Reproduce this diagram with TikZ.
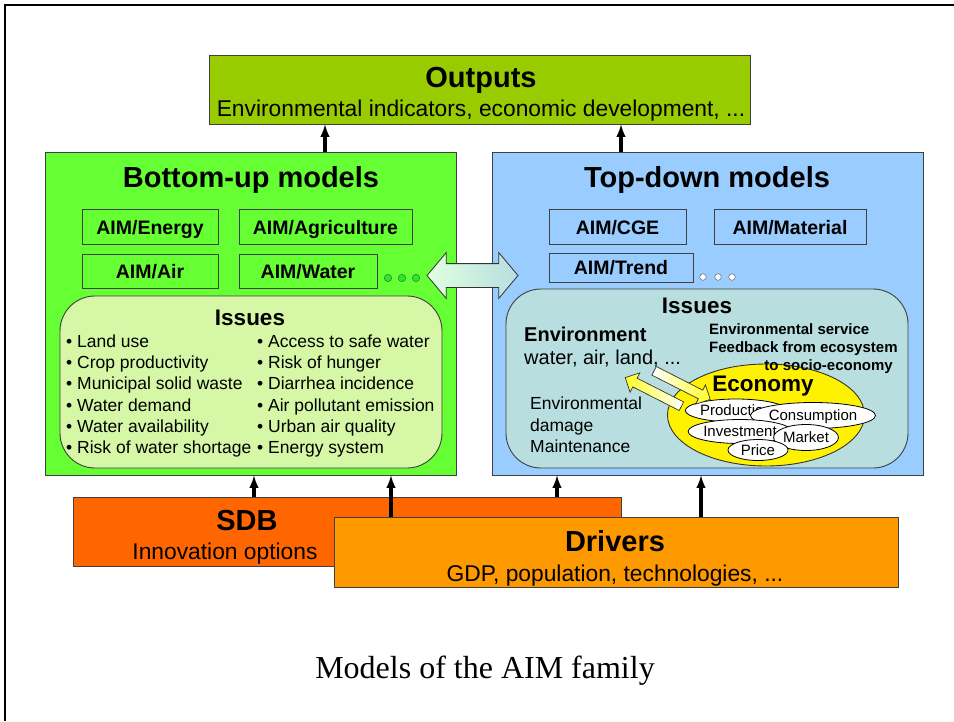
\documentclass[tikz,border=0pt]{standalone}
\usepackage{xcolor}
\usepackage{fontspec}
\setmainfont{Liberation Sans}
\newfontfamily\capfont{Liberation Serif}
\usepackage{tikz}
\usetikzlibrary{arrows,shapes.geometric,shapes.arrows}

\definecolor{outgreen}{HTML}{99CC00}
\definecolor{bugreen}{HTML}{66FF33}
\definecolor{buissue}{HTML}{D5F7A6}
\definecolor{tdblue}{HTML}{99CCFF}
\definecolor{tdissue}{HTML}{B8DEE0}
\definecolor{sdborange}{HTML}{FF6600}
\definecolor{drvorange}{HTML}{FF9900}
\definecolor{dotgreen}{HTML}{22EE22}

\tikzset{
  box/.style={draw=black!75, line width=0.9pt, inner sep=0pt},
  aimbox/.style={box, text height=14pt, text depth=0pt, font=\bfseries\fontsize{19.5}{22}\selectfont},
  bigtitle/.style={inner sep=0pt, text height=20.8pt, text depth=0pt, font=\bfseries\fontsize{29}{31}\selectfont},
  subline/.style={inner sep=0pt, text height=16.3pt, text depth=0pt, font=\fontsize{22.8}{25}\selectfont},
  issuehead/.style={inner sep=0pt, text height=16.1pt, text depth=0pt, font=\bfseries\fontsize{22.5}{25}\selectfont},
  issue/.style={anchor=west, inner sep=0pt, text height=12.5pt, text depth=0pt, font=\fontsize{17.5}{20}\selectfont},
  envtext/.style={anchor=west, inner sep=0pt, text height=14.3pt, text depth=0pt},
  service/.style={inner sep=0pt, text height=10.7pt, text depth=0pt, font=\bfseries\fontsize{15}{17}\selectfont},
  part/.style={ellipse, draw=black, fill=white, inner sep=0pt, line width=0.8pt,
    text height=10.7pt, text depth=0pt, font=\fontsize{15}{17}\selectfont},
  smallarrow/.style={single arrow, draw=black!80, line width=0.7pt, inner sep=4.5pt,
    minimum height=63pt, single arrow head extend=6pt},
  up/.style={-latex, line width=3.2pt},
}

\begin{document}
\begin{tikzpicture}[x=1pt,y=-1pt]
  \useasboundingbox (0,0) rectangle (954,721);
  \draw[line width=2pt] (954,5) -- (5,5) -- (5,721);

  \node[box, fill=bugreen, minimum width=411, minimum height=323] (bu) at (250.5,313.5) {};
  \node[bigtitle] (buT) at (251,177) {Bottom-up models};
  \node[aimbox, minimum width=136, minimum height=35] (energy) at (150,227) {AIM/Energy};
  \node[aimbox, minimum width=173, minimum height=35] (agri) at (325.5,227) {AIM/Agriculture};
  \node[aimbox, minimum width=136, minimum height=34] (air) at (150,271) {AIM/Air};
  \node[aimbox, minimum width=138, minimum height=34] (water) at (308,271) {AIM/Water};
  \foreach \x [count=\i] in {388,402,416}
    \node[circle, draw=black!70, fill=dotgreen, inner sep=0pt, minimum size=7.4pt] (bdot\i) at (\x,278) {};
  \node[box, fill=buissue, rounded corners=35pt, minimum width=382, minimum height=172] (buI) at (251,382) {};
  \node[issuehead] (buIT) at (250,317) {Issues};
  \foreach \y/\l/\r [count=\i] in {341/Land use/Access to safe water,
      362/Crop productivity/Risk of hunger,
      383/Municipal solid waste/Diarrhea incidence,
      405/Water demand/Air pollutant emission,
      426/Water availability/Urban air quality,
      447/Risk of water shortage/Energy system} {
    \node[issue] (bl\i) at (66,\y) {\textbullet\ \l};
    \node[issue] (br\i) at (257,\y) {\textbullet\ \r};
  }

  \node[box, fill=tdblue, minimum width=431, minimum height=323] (td) at (707.5,313.5) {};
  \node[bigtitle] (tdT) at (707,177) {Top-down models};
  \node[aimbox, minimum width=137, minimum height=35] (cge) at (617.5,227) {AIM/CGE};
  \node[aimbox, minimum width=152, minimum height=35] (material) at (790,227) {AIM/Material};
  \node[aimbox, minimum width=144, minimum height=29] (trend) at (621,267.5) {AIM/Trend};
  \foreach \x [count=\i] in {703,718,732}
    \node[circle, draw=black!70, fill=white, inner sep=0pt, minimum size=6.6pt] (tdot\i) at (\x,277) {};
  \node[box, fill=tdissue, rounded corners=35pt, minimum width=402, minimum height=179] (tdI) at (707,378.5) {};
  \node[issuehead] (tdIT) at (697,305) {Issues};
  \node[envtext, font=\bfseries\fontsize{20}{22}\selectfont] (env) at (524,334) {Environment};
  \node[envtext, font=\fontsize{20}{22}\selectfont] (envS) at (524,357) {water, air, land, ...};
  \node[service, anchor=west] (serv1) at (709,329) {Environmental service};
  \node[service, anchor=west] (serv2) at (709,347) {Feedback from ecosystem};
  \node[issue] (dmg1) at (530,403) {Environmental};
  \node[issue] (dmg2) at (530,425) {damage};
  \node[issue] (dmg3) at (530,446) {Maintenance};

  \node[ellipse, draw=black!80, line width=0.9pt, fill=yellow, inner sep=0pt,
    minimum width=197, minimum height=102] (eco) at (766,415) {};
  \node[service, anchor=east] (serv3) at (893,365) {to socio-economy};
  \node[issuehead] (ecoT) at (763,383) {Economy};
  \node[part, minimum width=92, minimum height=23] (prod) at (736,410.5) {Production};
  \node[part, minimum width=90, minimum height=26] (cons) at (813,415.5) {Consumption};
  \node[part, minimum width=86, minimum height=24] (inv) at (740,431.5) {Investment};
  \node[part, minimum width=63, minimum height=26] (market) at (806,437.5) {Market};
  \node[part, minimum width=60, minimum height=21] (price) at (758,450) {Price};

  \node[smallarrow, rotate=-27, left color=white, right color=yellow!85!white] (toeco) at (680,384) {};
  \node[smallarrow, rotate=153, left color=yellow!85!white, right color=white] (toenv) at (655.5,393) {};

  \node[double arrow, draw=black!80, line width=0.8pt, inner sep=11.5pt, minimum height=91pt,
    double arrow head extend=11pt, double arrow tip angle=100,
    left color=green!12!white, right color=tdissue] (link) at (472.5,275.5) {};

  \node[box, fill=outgreen, minimum width=541, minimum height=69] (out) at (479.5,89.5) {};
  \node[bigtitle] (outT) at (481,77) {Outputs};
  \node[subline] (outS) at (481,108) {Environmental indicators, economic development, ...};

  \node[box, fill=sdborange, minimum width=548, minimum height=69] (sdb) at (347,531.5) {};
  \node[bigtitle] (sdbT) at (247,520) {SDB};
  \node[subline] (sdbS) at (225,551) {Innovation options};
  \node[box, fill=drvorange, minimum width=564, minimum height=70] (drv) at (616,552) {};
  \node[bigtitle] (drvT) at (615,541) {Drivers};
  \node[subline] (drvS) at (615,573) {GDP, population, technologies, ...};

  \draw[up] (325,0 |- bu.north) -- (325,0 |- out.south);
  \draw[up] (621,0 |- td.north) -- (621,0 |- out.south);
  \draw[up] (254,0 |- sdb.north) -- (254,0 |- bu.south);
  \draw[up] (391,0 |- drv.north) -- (391,0 |- bu.south);
  \draw[up] (557,0 |- sdb.north) -- (557,0 |- td.south);
  \draw[up] (701,0 |- drv.north) -- (701,0 |- td.south);

  \node[inner sep=0pt, text height=21.2pt, text depth=0pt, font=\capfont\fontsize{32}{36}\selectfont] (caption) at (485,668) {Models of the AIM family};
\end{tikzpicture}
\end{document}
